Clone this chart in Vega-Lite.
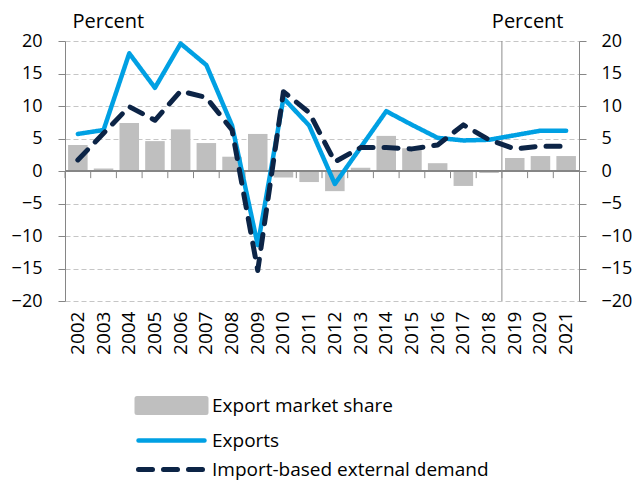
{
  "$schema": "https://vega.github.io/schema/vega-lite/v6.json",
  "autosize": {"type": "none"},
  "padding": {"left": 65, "top": 41, "right": 54, "bottom": 183},
  "width": 514,
  "height": 260,
  "background": "white",
  "config": {
    "view": {"stroke": null},
    "font": "Open Sans",
    "axis": {"labelFont": "Open Sans", "titleFont": "Open Sans", "labelColor": "#000000", "titleColor": "#000000", "titleFontWeight": "normal"}
  },
  "data": {
    "values": [
      {"year": "2002", "series": "Export market share", "value": 4.0},
      {"year": "2003", "series": "Export market share", "value": 0.4},
      {"year": "2004", "series": "Export market share", "value": 7.4},
      {"year": "2005", "series": "Export market share", "value": 4.6},
      {"year": "2006", "series": "Export market share", "value": 6.4},
      {"year": "2007", "series": "Export market share", "value": 4.3},
      {"year": "2008", "series": "Export market share", "value": 2.2},
      {"year": "2009", "series": "Export market share", "value": 5.7},
      {"year": "2010", "series": "Export market share", "value": -1.0},
      {"year": "2011", "series": "Export market share", "value": -1.7},
      {"year": "2012", "series": "Export market share", "value": -3.1},
      {"year": "2013", "series": "Export market share", "value": 0.5},
      {"year": "2014", "series": "Export market share", "value": 5.4},
      {"year": "2015", "series": "Export market share", "value": 3.5},
      {"year": "2016", "series": "Export market share", "value": 1.2},
      {"year": "2017", "series": "Export market share", "value": -2.3},
      {"year": "2018", "series": "Export market share", "value": -0.3},
      {"year": "2019", "series": "Export market share", "value": 2.0},
      {"year": "2020", "series": "Export market share", "value": 2.3},
      {"year": "2021", "series": "Export market share", "value": 2.3},
      {"year": "2002", "series": "Exports", "value": 5.7},
      {"year": "2003", "series": "Exports", "value": 6.3},
      {"year": "2004", "series": "Exports", "value": 18.1},
      {"year": "2005", "series": "Exports", "value": 12.8},
      {"year": "2006", "series": "Exports", "value": 19.6},
      {"year": "2007", "series": "Exports", "value": 16.3},
      {"year": "2008", "series": "Exports", "value": 7.0},
      {"year": "2009", "series": "Exports", "value": -11.4},
      {"year": "2010", "series": "Exports", "value": 11.2},
      {"year": "2011", "series": "Exports", "value": 7.0},
      {"year": "2012", "series": "Exports", "value": -2.0},
      {"year": "2013", "series": "Exports", "value": 3.6},
      {"year": "2014", "series": "Exports", "value": 9.2},
      {"year": "2015", "series": "Exports", "value": 7.1},
      {"year": "2016", "series": "Exports", "value": 5.1},
      {"year": "2017", "series": "Exports", "value": 4.7},
      {"year": "2018", "series": "Exports", "value": 4.8},
      {"year": "2019", "series": "Exports", "value": 5.5},
      {"year": "2020", "series": "Exports", "value": 6.2},
      {"year": "2021", "series": "Exports", "value": 6.2},
      {"year": "2002", "series": "Import-based external demand", "value": 1.7},
      {"year": "2003", "series": "Import-based external demand", "value": 5.8},
      {"year": "2004", "series": "Import-based external demand", "value": 9.9},
      {"year": "2005", "series": "Import-based external demand", "value": 7.8},
      {"year": "2006", "series": "Import-based external demand", "value": 12.3},
      {"year": "2007", "series": "Import-based external demand", "value": 11.3},
      {"year": "2008", "series": "Import-based external demand", "value": 6.3},
      {"year": "2009", "series": "Import-based external demand", "value": -15.3},
      {"year": "2010", "series": "Import-based external demand", "value": 12.2},
      {"year": "2011", "series": "Import-based external demand", "value": 9.0},
      {"year": "2012", "series": "Import-based external demand", "value": 1.4},
      {"year": "2013", "series": "Import-based external demand", "value": 3.6},
      {"year": "2014", "series": "Import-based external demand", "value": 3.6},
      {"year": "2015", "series": "Import-based external demand", "value": 3.4},
      {"year": "2016", "series": "Import-based external demand", "value": 4.0},
      {"year": "2017", "series": "Import-based external demand", "value": 7.1},
      {"year": "2018", "series": "Import-based external demand", "value": 4.8},
      {"year": "2019", "series": "Import-based external demand", "value": 3.4},
      {"year": "2020", "series": "Import-based external demand", "value": 3.8},
      {"year": "2021", "series": "Import-based external demand", "value": 3.8}
    ]
  },
  "layer": [
    {
      "transform": [{"filter": "datum.series === 'Export market share'"}],
      "mark": {"type": "bar", "width": {"band": 0.76}},
      "encoding": {
        "x": {
          "field": "year", "type": "nominal", "sort": null,
          "scale": {"paddingInner": 0, "paddingOuter": 0},
          "axis": {"orient": "bottom", "title": null, "domain": false, "ticks": false, "labelAngle": 270, "labelFontSize": 19, "labelPadding": 10, "grid": false}
        },
        "y": {
          "field": "value", "type": "quantitative",
          "scale": {"domain": [-20, 20], "nice": false, "zero": false},
          "axis": {
            "orient": "left", "values": [-20, -15, -10, -5, 0, 5, 10, 15, 20],
            "title": "Percent", "titleAngle": 0, "titleAlign": "left", "titleBaseline": "alphabetic",
            "titleX": 7, "titleY": -14, "titleFontSize": 20,
            "labelFontSize": 18, "labelPadding": 16, "tickSize": 7,
            "domainColor": "#868686", "tickColor": "#868686",
            "grid": true, "gridColor": "#c6c6c6", "gridDash": [5, 3], "gridWidth": 1.2
          }
        },
        "color": {
          "field": "series", "type": "nominal",
          "scale": {
            "domain": ["Export market share", "Exports", "Import-based external demand"],
            "range": ["#bfbfbf", "#00a0e3", "#0c2446"]
          },
          "legend": {
            "orient": "none", "legendX": 97, "legendY": 355, "direction": "vertical",
            "title": null, "padding": 0, "rowPadding": 8,
            "labelFont": "Open Sans", "labelFontSize": 19, "labelColor": "#000000", "labelOffset": 31, "labelLimit": 0,
            "symbolSize": 400,
            "encode": {
              "symbols": {
                "update": {
                  "shape": {"signal": "datum.value === 'Export market share' ? 'M-3.45,-0.7H3.45V0.7H-3.45Z' : 'M-3.3,0H3.3'"},
                  "fill": {"signal": "datum.value === 'Export market share' ? '#bfbfbf' : 'transparent'"},
                  "stroke": {"signal": "datum.value === 'Exports' ? '#00a0e3' : (datum.value === 'Import-based external demand' ? '#0c2446' : 'transparent')"},
                  "strokeWidth": {"signal": "datum.value === 'Exports' ? 4.5 : 5"},
                  "strokeDash": {"signal": "datum.value === 'Import-based external demand' ? [14, 11] : [1, 0]"},
                  "strokeCap": {"value": "round"},
                  "size": {"value": 400},
                  "opacity": {"value": 1}
                }
              }
            }
          }
        }
      }
    },
    {
      "mark": {"type": "rule", "color": "#868686", "strokeWidth": 1.2},
      "encoding": {"y": {"datum": 0, "axis": null}}
    },
    {
      "transform": [{"filter": "datum.series === 'Exports'"}],
      "mark": {"type": "rule", "color": "#868686", "strokeWidth": 1},
      "encoding": {
        "x": {"field": "year", "type": "nominal", "sort": null, "bandPosition": 0, "axis": null},
        "y": {"datum": 0, "axis": null},
        "y2": {"datum": -1.1}
      }
    },
    {
      "data": {"values": [{"year": "2019"}]},
      "mark": {"type": "rule", "color": "#8c8c8c", "strokeWidth": 1},
      "encoding": {
        "x": {"field": "year", "type": "nominal", "bandPosition": 0, "axis": null}
      }
    },
    {
      "transform": [{"filter": "datum.series !== 'Export market share'"}],
      "mark": {"type": "line", "strokeCap": "round", "strokeJoin": "round"},
      "encoding": {
        "x": {"field": "year", "type": "nominal", "sort": null, "axis": null},
        "y": {
          "field": "value", "type": "quantitative",
          "axis": {
            "orient": "right", "values": [-20, -15, -10, -5, 0, 5, 10, 15, 20],
            "title": "Percent", "titleAngle": 0, "titleAlign": "right", "titleBaseline": "alphabetic",
            "titleX": -16, "titleY": -14, "titleFontSize": 20,
            "labelFontSize": 18, "labelPadding": 15, "tickSize": 7,
            "domainColor": "#868686", "tickColor": "#868686", "grid": false
          }
        },
        "color": {"field": "series", "type": "nominal", "legend": null},
        "strokeWidth": {"condition": {"test": "datum.series === 'Exports'", "value": 4.5}, "value": 5},
        "strokeDash": {"condition": {"test": "datum.series === 'Import-based external demand'", "value": [14, 11]}, "value": [1, 0]}
      }
    }
  ],
  "resolve": {"axis": {"x": "independent", "y": "independent"}}
}
